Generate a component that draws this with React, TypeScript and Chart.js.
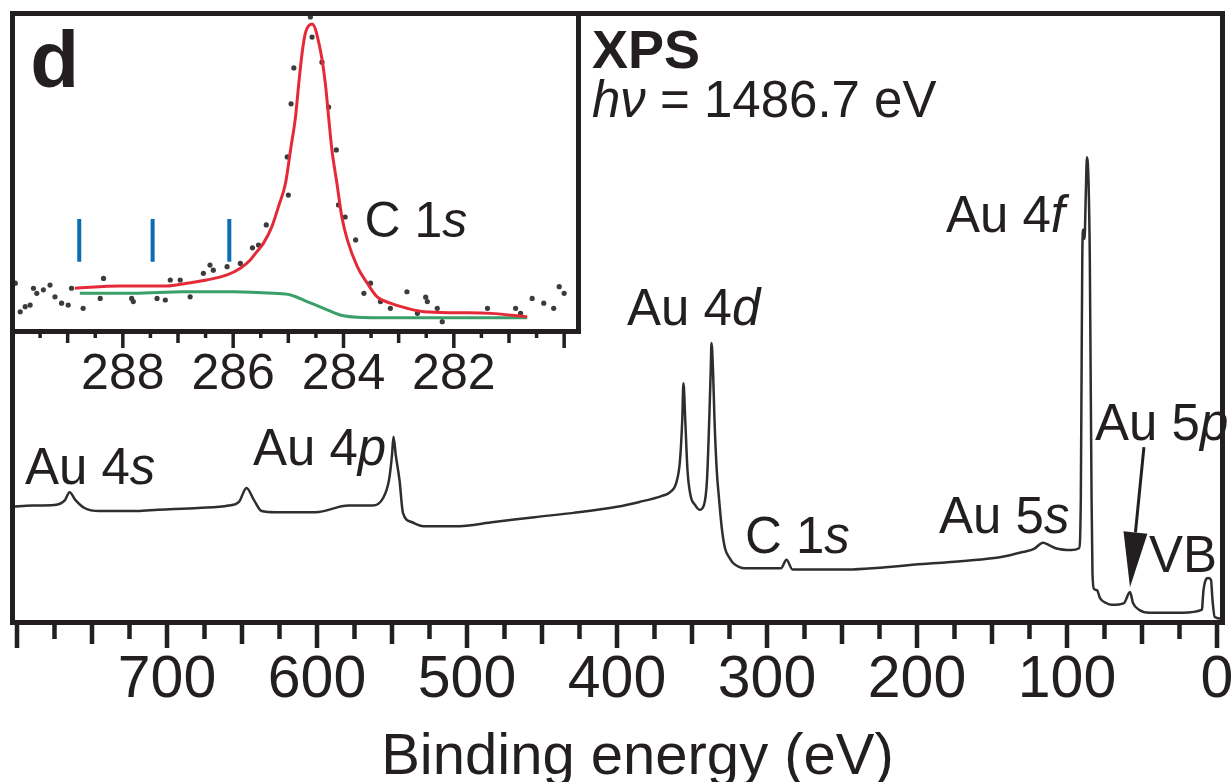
import React, { useEffect, useRef } from "react";
import { Chart, registerables } from "chart.js";

Chart.register(...registerables);

const FONT = '"Liberation Sans", Arial, Helvetica, sans-serif';
const INK = "#231f20";

// ---------- Main survey spectrum (binding energy in eV, intensity in arb. units) ----------
const surveyEnergy = [
  803, 790, 775, 768, 765, 761, 755, 745, 720, 706, 679, 659, 652, 647, 642, 637, 627, 601,
  579, 563, 556, 552, 550, 549, 547.5, 545, 542.7, 537, 529, 508, 482, 455, 429, 400, 385,
  370, 364.6, 360.3, 358, 356.5, 355.7, 354.5, 353, 351, 348, 345, 342, 340, 338.5, 337.5,
  337, 336, 335, 333.5, 332, 330, 328, 325, 322.7, 314.7, 290.7, 287, 283, 250, 196, 169,
  143, 129, 122, 116, 112, 107.6, 97, 92, 90.8, 90.3, 89.8, 89.2, 88.3, 87.5, 86.7, 85.6,
  84.8, 84.2, 83.6, 83, 82, 80, 78, 74, 70, 62, 58, 56, 52, 45, 23, 10, 9.5, 9, 6, 4, 3, 1.5,
  -3.6,
];
const surveyIntensity = [
  19.0, 19.2, 19.3, 20.1, 21.4, 20.1, 18.8, 18.3, 18.3, 18.5, 18.8, 19.2, 19.8, 22.1, 20.1,
  18.3, 18.1, 18.1, 19.2, 19.2, 20.4, 23.4, 27.5, 30.5, 27.5, 23.4, 18.0, 16.5, 15.8, 15.8,
  16.5, 17.3, 18.0, 19.0, 19.8, 20.8, 21.4, 23.1, 26.6, 33.3, 39.3, 33.3, 25.0, 20.9, 19.3,
  18.5, 19.3, 23.4, 33.3, 41.5, 45.9, 41.5, 33.3, 25.0, 20.4, 15.2, 12.2, 10.6, 9.8, 8.9,
  8.9, 10.3, 8.7, 8.7, 9.6, 10.1, 10.8, 11.6, 12.1, 13.1, 12.7, 12.2, 11.9, 12.2, 20.0,
  40.0, 60.0, 64.5, 63.0, 70.0, 76.4, 72.0, 60.0, 40.0, 20.0, 8.0, 5.5, 5.3, 4.0, 3.2, 2.9,
  3.2, 5.0, 3.2, 2.1, 1.6, 1.6, 2.1, 3.7, 5.3, 7.3, 7.0, 3.7, 0.9, 0.6,
];
const surveyTickLabels = [700, 600, 500, 400, 300, 200, 100, 0];

// Peak labels of the survey: plain part, italic part, energy (left edge), intensity (baseline)
const surveyLabelPlain = ["Au 4", "Au 4", "Au 4", "C 1", "Au 5", "Au 4", "Au 5", "VB"];
const surveyLabelItalic = ["s", "p", "d", "s", "s", "f", "p", ""];
const surveyLabelEnergy = [794.7, 642.7, 393.3, 314.7, 185.3, 180.7, 81.3, 45.3];
const surveyLabelIntensity = [22.7, 25.9, 48.9, 11.4, 14.7, 64.1, 30.0, 8.3];

// Arrow pointing at Au 5p: [start, tip] in (energy, intensity)
const arrowEnergy = [48.7, 58.0];
const arrowIntensity = [28.8, 5.8];

// Header text position (energy, intensity)
const headerEnergy = 416.7;
const headerIntensity = [91.1, 83.0];

// ---------- Inset: C 1s region ----------
const c1sDataEnergy = [
  289.95, 289.86, 289.77, 289.68, 289.62, 289.56, 289.44, 289.32, 289.23, 289.11, 288.99,
  288.93, 288.72, 288.41, 288.35, 287.84, 287.81, 287.38, 287.23, 287.14, 286.96, 286.78,
  286.54, 286.42, 286.36, 286.11, 285.87, 285.65, 285.54, 285.4, 285.02, 285.0, 284.95,
  284.9, 284.6, 284.57, 284.39, 284.27, 284.13, 284.09, 283.97, 283.78, 283.63, 283.51,
  283.33, 283.15, 282.85, 282.66, 282.51, 282.48, 282.3, 282.21, 281.39, 280.88, 280.79,
  280.58, 280.37, 280.19, 280.09, 280.0,
];
const c1sDataCounts = [
  15.2, 6.2, 7.8, 8.3, 13.6, 12.0, 13.1, 14.6, 10.9, 8.9, 8.3, 13.6, 7.3, 10.4, 16.7, 10.4,
  9.4, 10.4, 9.9, 16.2, 16.2, 10.9, 18.3, 20.9, 19.3, 20.4, 21.4, 26.3, 27.2, 33.5, 54.9,
  42.9, 71.6, 82.9, 98.9, 92.6, 84.7, 70.6, 57.1, 39.8, 36.0, 28.8, 12.0, 15.2, 9.4, 7.3,
  12.5, 5.7, 10.8, 9.4, 7.3, 3.1, 7.3, 7.3, 5.7, 10.4, 8.9, 7.3, 14.1, 12.0,
];
const c1sFitEnergy = [
  288.87, 288.05, 287.2, 286.84, 286.48, 286.11, 285.87, 285.69, 285.57, 285.45, 285.3,
  285.18, 285.05, 284.96, 284.87, 284.81, 284.75, 284.69, 284.57, 284.42, 284.33, 284.27,
  284.21, 284.12, 284.03, 283.93, 283.75, 283.57, 283.39, 283.15, 282.85, 282.54, 281.94,
  281.33, 280.67,
];
const c1sFitIntensity = [
  13.6, 14.3, 14.3, 15.2, 16.2, 17.8, 19.9, 22.5, 25.1, 27.8, 32.9, 39.2, 46.7, 57.1, 67.5,
  78.1, 87.6, 93.9, 96.7, 88.5, 78.1, 67.5, 57.1, 46.7, 36.0, 28.8, 20.4, 15.2, 10.9, 8.9,
  7.3, 6.2, 5.9, 5.7, 4.6,
];
const c1sBgEnergy = [
  288.78, 287.81, 286.9, 285.99, 285.27, 284.96, 284.66, 284.36, 284.06, 283.75, 283.15,
  281.94, 280.67,
];
const c1sBgIntensity = [12.0, 12.0, 12.5, 12.5, 12.0, 11.5, 9.4, 7.3, 5.2, 4.5, 4.3, 4.3, 4.3];
const c1sMarkerEnergy = [288.79, 287.46, 286.07];
const c1sMarkerRange = [21.9, 35.4];
const insetTickLabels = [288, 286, 284, 282];

// Inset labels (energy of left edge, intensity of baseline)
const insetPanelPos = [289.68, 76.9];
const insetPeakPos = [283.62, 29.7];

type Seg = [string, boolean];

function drawSegs(ctx: CanvasRenderingContext2D, segs: Seg[], x: number, y: number, size: number, bold = false) {
  let cx = x;
  ctx.textAlign = "left";
  ctx.textBaseline = "alphabetic";
  for (const [t, it] of segs) {
    if (!t) continue;
    ctx.font = `${it ? "italic " : ""}${bold ? "bold " : ""}${size}px ${FONT}`;
    ctx.fillText(t, cx, y);
    cx += ctx.measureText(t).width;
  }
}

const isInt = (v: number) => Math.abs(v - Math.round(v)) < 1e-6;

const mainOverlay = {
  id: "mainOverlay",
  afterDraw(chart: any) {
    const { ctx, chartArea: a, scales } = chart;
    const xs = scales.x;
    const ys = scales.y;
    ctx.save();
    ctx.fillStyle = INK;
    // tick marks: long at 100, medium at 50, short at 25
    for (const t of xs.ticks) {
      const v = t.value;
      const len = v % 100 === 0 ? 23 : v % 50 === 0 ? 19 : 14;
      const px = xs.getPixelForValue(v);
      ctx.fillRect(px - 2.25, a.bottom, 4.5, 2.5 + len);
    }
    // frame
    ctx.strokeStyle = INK;
    ctx.lineWidth = 5;
    ctx.strokeRect(a.left, a.top, a.right - a.left, a.bottom - a.top);

    // peak labels
    ctx.fillStyle = INK;
    for (let i = 0; i < surveyLabelPlain.length; i++) {
      drawSegs(
        ctx,
        [[surveyLabelPlain[i], false], [surveyLabelItalic[i], true]],
        xs.getPixelForValue(surveyLabelEnergy[i]),
        ys.getPixelForValue(surveyLabelIntensity[i]),
        51
      );
    }
    // header
    const hx = xs.getPixelForValue(headerEnergy);
    drawSegs(ctx, [["XPS", false]], hx, ys.getPixelForValue(headerIntensity[0]), 54, true);
    drawSegs(ctx, [["hν", true], [" = 1486.7 eV", false]], hx, ys.getPixelForValue(headerIntensity[1]), 51);

    // arrow
    const x0 = xs.getPixelForValue(arrowEnergy[0]);
    const y0 = ys.getPixelForValue(arrowIntensity[0]);
    const x1 = xs.getPixelForValue(arrowEnergy[1]);
    const y1 = ys.getPixelForValue(arrowIntensity[1]);
    const dx = x1 - x0, dy = y1 - y0;
    const L = Math.hypot(dx, dy);
    const ux = dx / L, uy = dy / L;
    const headLen = 55, headHalf = 12;
    const bx = x1 - ux * headLen, by = y1 - uy * headLen;
    ctx.strokeStyle = INK;
    ctx.lineWidth = 3;
    ctx.beginPath();
    ctx.moveTo(x0, y0);
    ctx.lineTo(bx, by);
    ctx.stroke();
    ctx.beginPath();
    ctx.moveTo(x1, y1);
    ctx.lineTo(bx - uy * headHalf, by + ux * headHalf);
    ctx.lineTo(bx + uy * headHalf, by - ux * headHalf);
    ctx.closePath();
    ctx.fill();

    // axis title
    ctx.font = `58px ${FONT}`;
    ctx.textAlign = "center";
    ctx.textBaseline = "alphabetic";
    ctx.fillText("Binding energy (eV)", (a.left + a.right) / 2 + 20, a.bottom + 151.5);
    ctx.restore();
  },
};

const insetOverlay = {
  id: "insetOverlay",
  afterDraw(chart: any) {
    const { ctx, chartArea: a, scales } = chart;
    const xs = scales.x;
    const ys = scales.y;
    ctx.save();
    ctx.fillStyle = INK;
    for (const t of xs.ticks) {
      const v = t.value;
      let len = 4;
      if (isInt(v)) len = Math.round(v) % 2 === 0 ? 14 : 9;
      const px = xs.getPixelForValue(v);
      ctx.fillRect(px - 1.75, a.bottom, 3.5, 2.5 + len);
    }
    ctx.strokeStyle = INK;
    ctx.lineWidth = 5;
    ctx.strokeRect(a.left, a.top, a.right - a.left, a.bottom - a.top);
    drawSegs(ctx, [["d", false]], xs.getPixelForValue(insetPanelPos[0]), ys.getPixelForValue(insetPanelPos[1]), 80, true);
    drawSegs(ctx, [["C 1", false], ["s", true]], xs.getPixelForValue(insetPeakPos[0]), ys.getPixelForValue(insetPeakPos[1]), 50);
    ctx.restore();
  },
};

const zip = (xs: number[], ys: number[]) => xs.map((x, i) => ({ x, y: ys[i] }));

const fixAxis = (h: number) => (s: any) => {
  s.height = h;
  s.paddingLeft = 0;
  s.paddingRight = 0;
  s.paddingTop = 0;
  s.paddingBottom = 0;
};

export default function App() {
  const mainRef = useRef<HTMLCanvasElement>(null);
  const insetRef = useRef<HTMLCanvasElement>(null);

  useEffect(() => {
    const mainChart = new Chart(mainRef.current as HTMLCanvasElement, {
      type: "line",
      data: {
        datasets: [
          {
            label: "Survey",
            data: zip(surveyEnergy, surveyIntensity),
            borderColor: "#2e2e2e",
            borderWidth: 2.5,
            pointRadius: 0,
            cubicInterpolationMode: "monotone",
          },
        ],
      },
      options: {
        animation: false,
        responsive: false,
        devicePixelRatio: 1,
        layout: { padding: { left: 12.5, right: 9.5, top: 13.5, bottom: 0 } },
        plugins: { legend: { display: false }, tooltip: { enabled: false } },
        events: [],
        scales: {
          x: {
            type: "linear",
            reverse: true,
            min: -3.67,
            max: 803,
            border: { display: false },
            grid: { display: false, drawTicks: false },
            afterFit: fixAxis(159.5),
            ticks: {
              stepSize: 25,
              includeBounds: false,
              autoSkip: false,
              maxRotation: 0,
              minRotation: 0,
              padding: 23,
              color: INK,
              font: { family: FONT, size: 59 },
              callback: (v: any) => (surveyTickLabels.includes(Number(v)) ? String(v) : ""),
            },
          },
          y: { type: "linear", display: false, min: 0, max: 100 },
        },
      },
      plugins: [mainOverlay],
    } as any);

    const markerSets = c1sMarkerEnergy.map((e, i) => ({
      label: `Marker ${i + 1}`,
      data: c1sMarkerRange.map((y) => ({ x: e, y })),
      borderColor: "#0b6db2",
      borderWidth: 4,
      pointRadius: 0,
      borderCapStyle: "butt",
    }));

    const insetChart = new Chart(insetRef.current as HTMLCanvasElement, {
      type: "line",
      data: {
        datasets: [
          {
            label: "Fit",
            data: zip(c1sFitEnergy, c1sFitIntensity),
            borderColor: "#e42a38",
            borderWidth: 3,
            pointRadius: 0,
            cubicInterpolationMode: "monotone",
          },
          {
            label: "Background",
            data: zip(c1sBgEnergy, c1sBgIntensity),
            borderColor: "#3a9f68",
            borderWidth: 3,
            pointRadius: 0,
            cubicInterpolationMode: "monotone",
          },
          {
            label: "Data",
            data: zip(c1sDataEnergy, c1sDataCounts),
            showLine: false,
            pointRadius: 2.6,
            pointBorderWidth: 0,
            pointBackgroundColor: "#3c3c3c",
            borderColor: "#3c3c3c",
          },
          ...markerSets,
        ],
      },
      options: {
        animation: false,
        responsive: false,
        devicePixelRatio: 1,
        layout: { padding: { left: 12.5, right: 21.5, top: 13.5, bottom: 0 } },
        plugins: { legend: { display: false }, tooltip: { enabled: false } },
        events: [],
        scales: {
          x: {
            type: "linear",
            reverse: true,
            min: 279.74,
            max: 290,
            border: { display: false },
            grid: { display: false, drawTicks: false },
            afterFit: fixAxis(88.5),
            ticks: {
              stepSize: 0.5,
              includeBounds: false,
              autoSkip: false,
              maxRotation: 0,
              minRotation: 0,
              padding: 14,
              color: INK,
              font: { family: FONT, size: 50 },
              callback: (v: any) => {
                const n = Number(v);
                return insetTickLabels.some((l) => Math.abs(l - n) < 1e-6) ? String(Math.round(n)) : "";
              },
            },
          },
          y: { type: "linear", display: false, min: 0, max: 100 },
        },
      },
      plugins: [insetOverlay],
    } as any);

    return () => {
      mainChart.destroy();
      insetChart.destroy();
    };
  }, []);

  return (
    <div style={{ position: "absolute", left: 0, top: 0, width: 1232, height: 782, background: "#fff" }}>
      <canvas ref={mainRef} width={1232} height={782} style={{ position: "absolute", left: 0, top: 0 }} />
      <canvas ref={insetRef} width={600} height={420} style={{ position: "absolute", left: 0, top: 0 }} />
    </div>
  );
}
